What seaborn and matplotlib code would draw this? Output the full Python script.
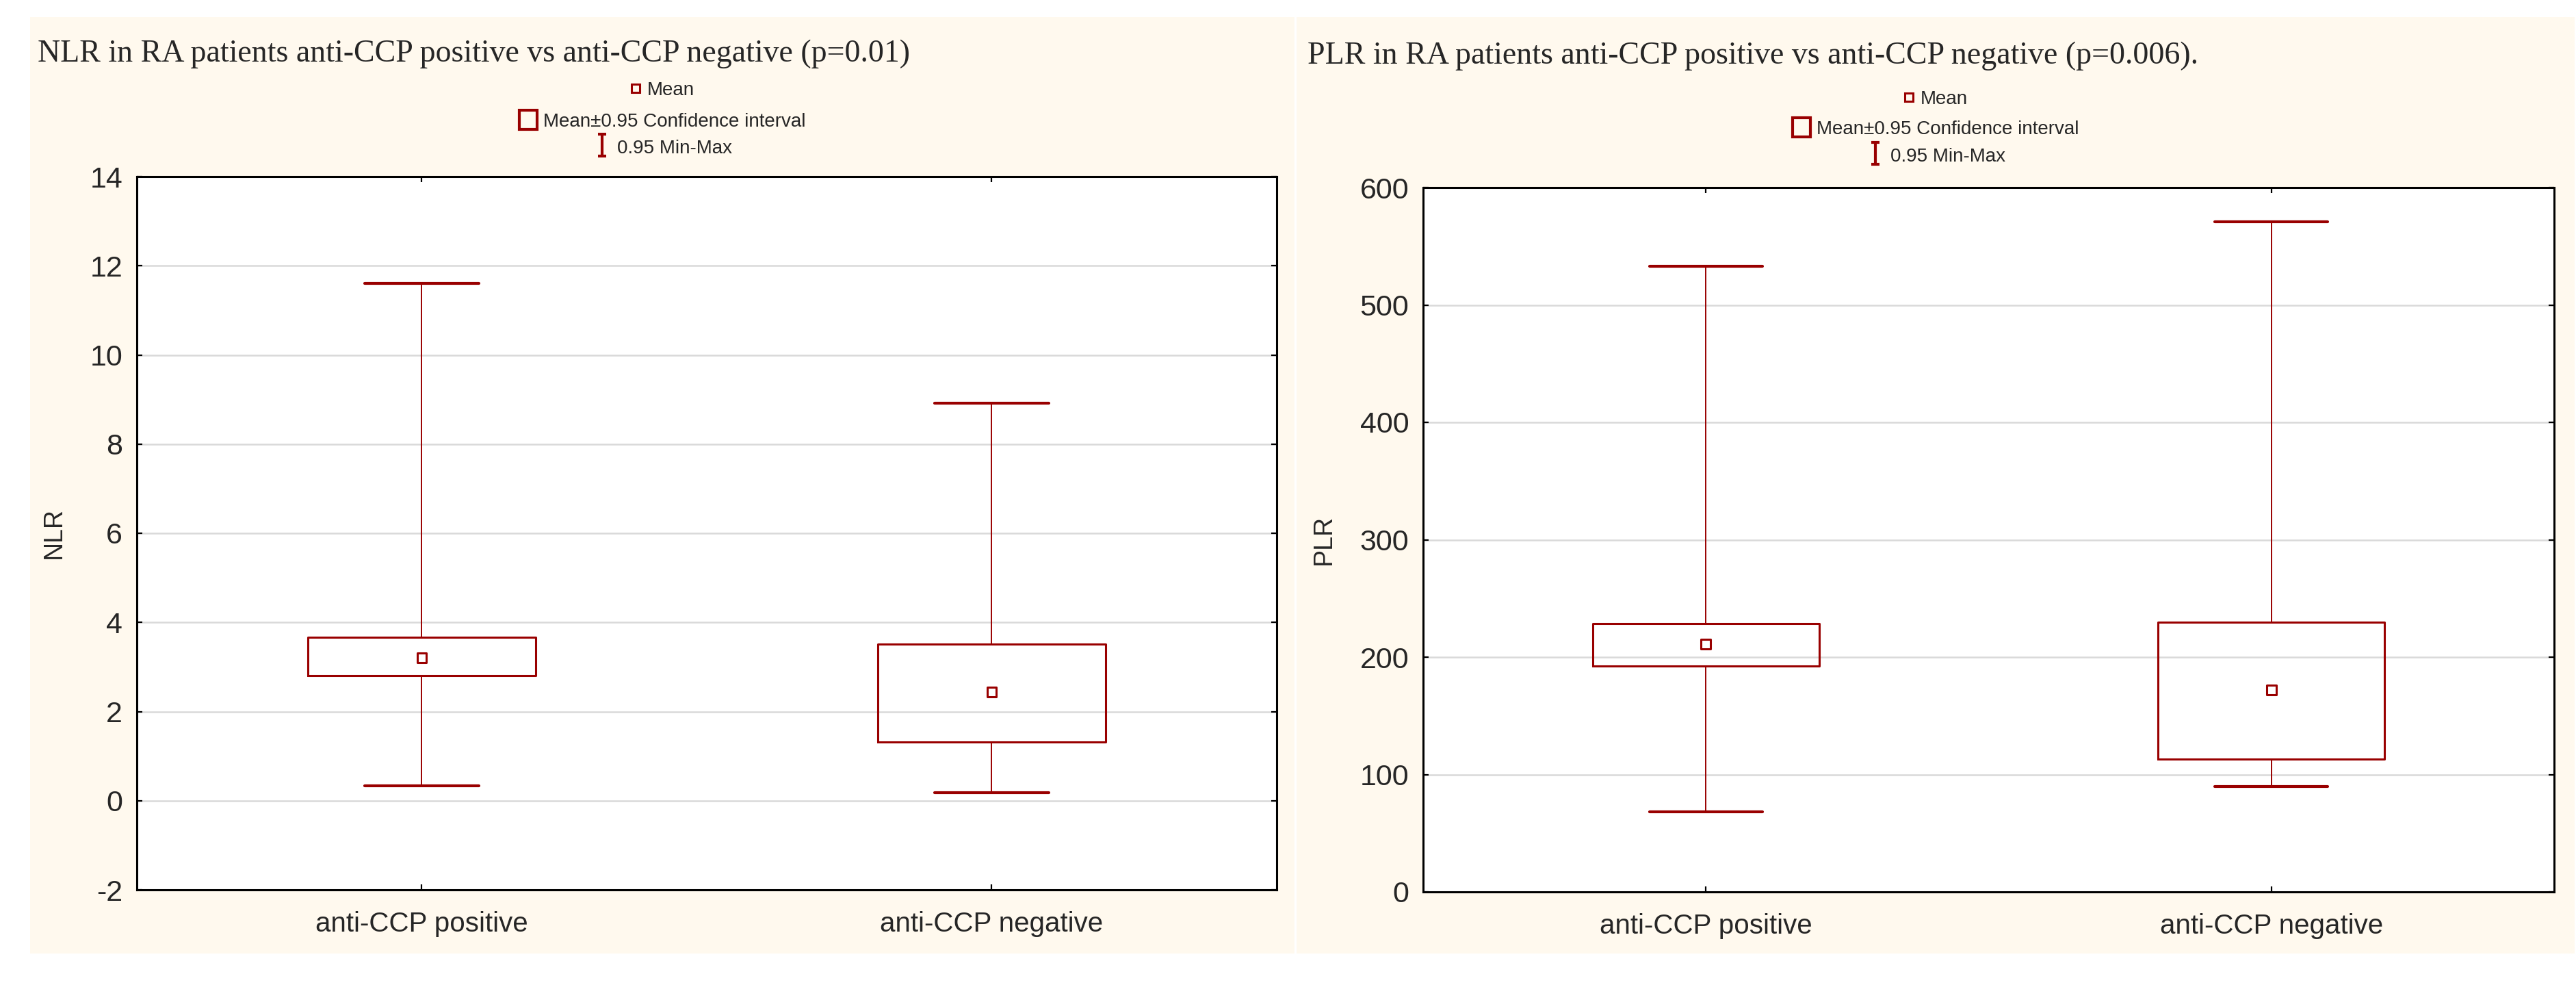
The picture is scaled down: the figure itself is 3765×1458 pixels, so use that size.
import matplotlib
matplotlib.use("Agg")
import matplotlib.pyplot as plt
import seaborn as sns
from matplotlib import font_manager
from matplotlib.patches import Rectangle, Patch
from matplotlib.lines import Line2D
from matplotlib.path import Path

sns.set_style("white")
plt.rcParams['font.family'] = ['Liberation Sans', 'DejaVu Sans']

installed = {f.name for f in font_manager.fontManager.ttflist}
NARROW = 'Liberation Sans Narrow' if 'Liberation Sans Narrow' in installed else 'Liberation Sans'

RED = '#990000'
PANEL = '#FFF9EE'
GRID = '#D9D9D9'

# data
categories = ['anti-CCP positive', 'anti-CCP negative']

nlr_mean = [3.20, 2.44]
nlr_ci_low = [2.80, 1.32]
nlr_ci_high = [3.66, 3.51]
nlr_min = [0.33, 0.18]
nlr_max = [11.60, 8.92]
nlr_ticks = [-2, 0, 2, 4, 6, 8, 10, 12, 14]

plr_mean = [211, 172]
plr_ci_low = [192.5, 113]
plr_ci_high = [228.5, 230]
plr_min = [68, 90]
plr_max = [533, 571]
plr_ticks = [0, 100, 200, 300, 400, 500, 600]

W, H = 3766, 1458
fig = plt.figure(figsize=(W / 100, H / 100), dpi=100)
fig.patch.set_facecolor('white')


def px(x, y):
    return x / W, 1 - y / H


# cream panels behind each chart
for x0, x1 in [(44, 1892), (1895, 3763)]:
    fig.patches.append(Rectangle((x0 / W, 1 - 1393 / H), (x1 - x0) / W, (1393 - 25) / H,
                                 transform=fig.transFigure, facecolor=PANEL,
                                 edgecolor='none', zorder=-5))


def draw_chart(ax, means, lows, highs, mins, maxs, ticks, ylabel, label_x):
    stats = []
    for cat, m, lo, hi, mn, mx in zip(categories, means, lows, highs, mins, maxs):
        stats.append({'med': m, 'q1': lo, 'q3': hi, 'whislo': mn, 'whishi': mx,
                      'fliers': [], 'label': cat})
    pos = list(range(len(categories)))
    ax.bxp(stats, positions=pos, widths=0.4, capwidths=0.2, showfliers=False,
           boxprops=dict(color=RED, linewidth=2.2),
           whiskerprops=dict(color=RED, linewidth=1.4),
           capprops=dict(color=RED, linewidth=3),
           medianprops=dict(linestyle='none'))
    sns.scatterplot(x=pos, y=means, marker='s', s=100, facecolor='none',
                    edgecolor=RED, linewidth=2.2, ax=ax, zorder=4, legend=False)

    ax.set_xlim(-0.5, len(categories) - 0.5)
    ax.set_ylim(ticks[0], ticks[-1])
    ax.set_xticks(pos)
    ax.set_xticklabels(categories)
    ax.set_yticks(ticks)
    ax.set_yticklabels([str(t) for t in ticks])
    ax.set_facecolor('white')
    ax.yaxis.grid(True, color=GRID, linewidth=1.8)
    ax.xaxis.grid(False)
    ax.set_axisbelow(True)
    for s in ax.spines.values():
        s.set_visible(True)
        s.set_color('black')
        s.set_linewidth(2.2)
    ax.tick_params(axis='both', direction='in', length=6, width=1.6, color='black',
                   top=True, right=True, left=True, bottom=True)
    ax.tick_params(axis='y', labelsize=31, pad=15, labelfontfamily=NARROW)
    ax.tick_params(axis='x', labelsize=29, pad=22)
    ax.set_xlabel('')
    ax.set_ylabel(ylabel, fontsize=27)
    ax.yaxis.set_label_coords(label_x, 0.5)


ax1 = fig.add_axes([200 / W, 1 - 1300 / H, 1666 / W, 1042 / H])
draw_chart(ax1, nlr_mean, nlr_ci_low, nlr_ci_high, nlr_min, nlr_max, nlr_ticks, 'NLR', -0.062)

ax2 = fig.add_axes([2080 / W, 1 - 1303 / H, 1653 / W, 1029 / H])
draw_chart(ax2, plr_mean, plr_ci_low, plr_ci_high, plr_min, plr_max, plr_ticks, 'PLR', -0.077)

# titles
fig.text(*px(55, 90), 'NLR in RA patients anti-CCP positive vs anti-CCP negative (p=0.01)',
         family=['Liberation Serif', 'DejaVu Serif'], fontsize=33, ha='left', va='baseline')
fig.text(*px(1911, 93), 'PLR in RA patients anti-CCP positive vs anti-CCP negative (p=0.006).',
         family=['Liberation Serif', 'DejaVu Serif'], fontsize=33, ha='left', va='baseline')

# legend entries, each centred on its panel
ibeam = Path([(-0.4, -1), (0.4, -1), (0, -1), (0, 1), (-0.4, 1), (0.4, 1)],
             [Path.MOVETO, Path.LINETO, Path.MOVETO, Path.LINETO, Path.MOVETO, Path.LINETO])
mean_h = Line2D([], [], marker='s', markersize=8, markerfacecolor='none',
                markeredgecolor=RED, markeredgewidth=2.2, linestyle='none')
ci_h = Patch(facecolor='none', edgecolor=RED, linewidth=3)
mm_h = Line2D([], [], marker=ibeam, markersize=23, markerfacecolor='none',
              markeredgecolor=RED, markeredgewidth=3, linestyle='none')

entries = [
    (mean_h, 'Mean', dict(handlelength=0.6, handleheight=0.7)),
    (ci_h, 'Mean\u00b10.95 Confidence interval', dict(handlelength=0.95, handleheight=1.15)),
    (mm_h, '0.95 Min-Max', dict(handlelength=1.0, handleheight=1.2)),
]
for cx, ys in [(968, [132, 176, 215]), (2829, [145, 187, 227])]:
    for (h, txt, kw), cy in zip(entries, ys):
        fig.legend(handles=[h], labels=[txt], loc='center', bbox_to_anchor=px(cx, cy),
                   frameon=False, fontsize=20, handletextpad=0.3, borderpad=0,
                   borderaxespad=0, **kw)

fig.savefig('out.png', dpi=100, facecolor='white')
